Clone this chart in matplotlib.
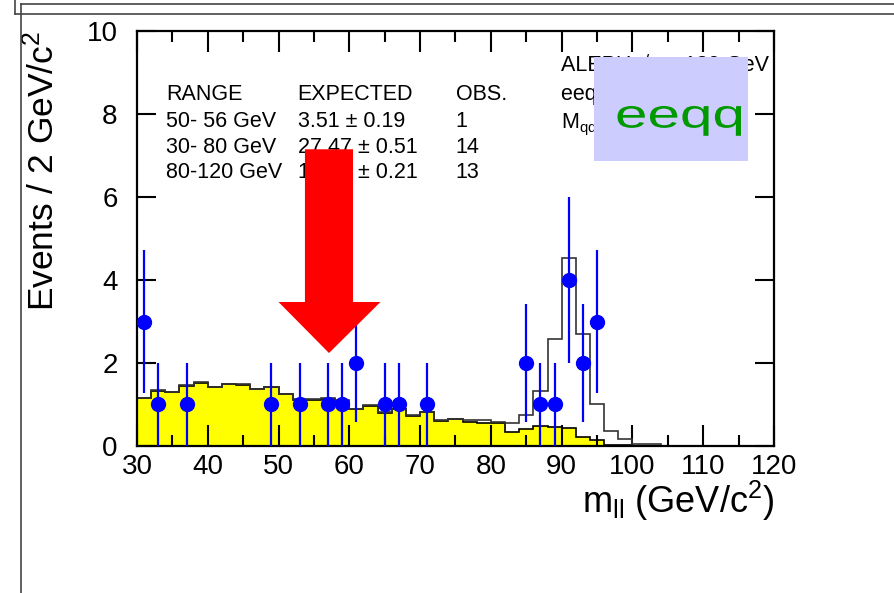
import numpy as np
import matplotlib
matplotlib.use("Agg")
import matplotlib.pyplot as plt
from matplotlib.patches import Polygon, Rectangle, PathPatch
from matplotlib.lines import Line2D
from matplotlib.textpath import TextPath
from matplotlib.transforms import Affine2D

plt.rcParams['font.family'] = ['Liberation Sans', 'DejaVu Sans']
plt.rcParams['mathtext.fontset'] = 'custom'
plt.rcParams['mathtext.rm'] = 'Liberation Sans'
plt.rcParams['mathtext.it'] = 'Liberation Sans'
plt.rcParams['mathtext.default'] = 'regular'

# 2 GeV bins from 30 to 120
bin_lo, bin_hi, bin_w = 30, 120, 2
# background expectation (yellow)
bkg = [1.15, 1.33, 1.29, 1.45, 1.53, 1.41, 1.49, 1.48, 1.37, 1.41,
       1.25, 1.12, 1.12, 1.14, 1.09, 0.88, 0.97, 0.80, 0.88, 0.73,
       0.81, 0.61, 0.64, 0.58, 0.55, 0.55, 0.34, 0.41, 0.47, 0.45,
       0.43, 0.22, 0.14, 0.03, 0.02, 0.01,
       0, 0, 0, 0, 0, 0, 0, 0, 0]
# total expectation (open histogram)
total = [1.16, 1.34, 1.30, 1.46, 1.54, 1.42, 1.50, 1.49, 1.38, 1.42,
         1.26, 1.13, 1.13, 1.15, 1.10, 0.89, 0.98, 0.81, 0.89, 0.75,
         0.82, 0.63, 0.66, 0.62, 0.62, 0.57, 0.56, 0.75, 1.33, 2.57,
         4.52, 2.69, 1.00, 0.36, 0.16, 0.06, 0.04, 0.01,
         0.01, 0.01, 0.01, 0.01, 0.01, 0.01, 0.01]
# observed events
data_x = [31, 33, 37, 49, 53, 57, 59, 61, 65, 67, 71, 85, 87, 89, 91, 93, 95]
data_n = [3, 1, 1, 1, 1, 1, 1, 2, 1, 1, 1, 2, 1, 1, 4, 2, 3]

table_rows = [["RANGE", "EXPECTED", "OBS."],
              ["50- 56 GeV", "3.51 \u00b1 0.19", "1"],
              ["30- 80 GeV", "27.47 \u00b1 0.51", "14"],
              ["80-120 GeV", "10.62 \u00b1 0.21", "13"]]
info_lines = ["ALEPH \u221as = 189 GeV", "eeqq channel", "M$_{qq}$ > 20 GeV/c$^2$"]

edges = np.arange(bin_lo, bin_hi + bin_w, bin_w)

fig = plt.figure(figsize=(8.94, 5.93), dpi=100)
ax = fig.add_axes([0.1532, 0.2479, 0.7126, 0.6998])

ax.stairs(bkg, edges, fill=True, color='#ffff00', zorder=1)
ax.stairs(bkg, edges, color='black', lw=1.2, zorder=2)
ax.stairs(total, edges, color='#333333', lw=1.2, zorder=2)
ax.axhline(0, color='#0000ff', lw=2, zorder=2)

err = np.sqrt(data_n)
ax.errorbar(data_x, data_n, yerr=err, fmt='o', color='#0000ff', ms=10,
            elinewidth=1.6, capsize=0, zorder=5)

ax.set_xlim(bin_lo, bin_hi)
ax.set_ylim(0, 10)
ax.set_xticks(np.arange(30, 121, 10))
ax.set_xticks(np.arange(35, 120, 10), minor=True)
ax.set_yticks(np.arange(0, 11, 2))
ax.tick_params(axis='both', which='both', direction='in', top=True, right=True,
               width=1.5, labelsize=20)
ax.tick_params(axis='x', which='major', length=15, pad=6)
ax.tick_params(axis='x', which='minor', length=8)
ax.tick_params(axis='y', which='major', length=14, pad=14)
for s in ax.spines.values():
    s.set_linewidth(1.6)

ax.set_ylabel("Events / 2 GeV/c$^2$", fontsize=25.5, loc='top')
ax.yaxis.set_label_coords(-0.12, 1.0)
ax.set_xlabel("m$_{ll}$ (GeV/c$^2$)", fontsize=26, loc='right')
ax.xaxis.set_label_coords(1.0, -0.08)

# table
col_x = [34.1, 52.7, 75.05]
row_y = [8.46, 7.83, 7.20, 6.58]
for r, row in enumerate(table_rows):
    for c, txt in enumerate(row):
        ax.text(col_x[c], row_y[r], txt, fontsize=15.5, va='center', ha='left', zorder=3)

# experiment info (partly hidden by the box)
info_y = [9.15, 8.46, 7.80]
for t, yy in zip(info_lines, info_y):
    ax.text(89.9, yy, t, fontsize=15.5, va='center', ha='left', zorder=3)

ax.add_patch(Rectangle((94.57, 6.87), 21.7, 2.51, facecolor='#ccccff',
                       edgecolor='none', zorder=6))
tp = TextPath((0, 0), "eeqq", size=40, prop=dict(family='Liberation Sans'))
tr = Affine2D().scale(1.46 / 894, 1.0 / 593).translate(615 / 894, (593 - 127.5) / 593) + fig.transFigure
fig.add_artist(PathPatch(tp, transform=tr, facecolor='#009900', edgecolor='none', zorder=7))

# red arrow
shaft_l, shaft_r, shaft_top = 53.73, 60.52, 7.15
head_l, head_r, head_y = 50.0, 64.4, 3.47
tip_x, tip_y = 57.13, 2.24
arrow = Polygon([(shaft_l, shaft_top), (shaft_r, shaft_top), (shaft_r, head_y),
                 (head_r, head_y), (tip_x, tip_y), (head_l, head_y),
                 (shaft_l, head_y)], closed=True, facecolor='#ff0000',
                edgecolor='none', zorder=6)
ax.add_patch(arrow)

# outer canvas frame lines
W, H = 894.0, 593.0
frame_lines = [((15, 15), (0, 14)), ((15, 894), (14, 14)),
               ((21, 894), (4, 4)), ((21, 21), (4, 593))]
for xs, ys in frame_lines:
    fig.add_artist(Line2D([x / W for x in xs], [1 - y / H for y in ys],
                          color='#444444', lw=1.2))

fig.savefig("out.png", dpi=100)
